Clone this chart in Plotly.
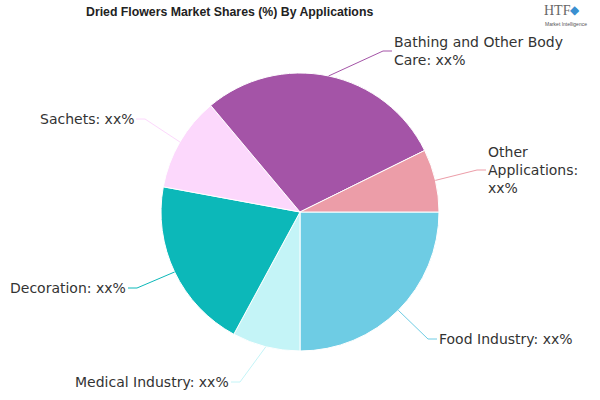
import math
import plotly.graph_objects as go

# ---- data ----
labels = ["Food Industry", "Medical Industry", "Decoration", "Sachets",
          "Bathing and Other Body Care", "Other Applications"]
values = [25.0, 7.9, 20.0, 11.0, 28.8, 7.3]
value_text = ["xx%", "xx%", "xx%", "xx%", "xx%", "xx%"]
label_display = ["Food Industry", "Medical Industry", "Decoration", "Sachets",
                 "Bathing and Other Body<br>Care", "Other<br>Applications:<br>"]
title_text = "Dried Flowers Market Shares (%) By Applications"

# ---- style ----
colors = ["#6ECCE4", "#C4F4F7", "#0CB8B9", "#FCD8FC", "#A454A7", "#EC9DA8"]
W, H = 600, 400
cx, cy, R = 300, 212, 139
start_deg = 90
# text anchor (x, y) in pixels and side for each label
label_anchor = [(437, 339, "left"), (231, 382, "right"), (128, 288, "right"),
                (136, 119, "right"), (392, 51, "left"), (486, 170, "left")]
elbow_gap = 9

def px(x):
    return x / W

def py(y):
    return 1 - y / H

fig = go.Figure(go.Pie(
    labels=labels, values=values, sort=False, direction="clockwise",
    rotation=start_deg, textinfo="none", hoverinfo="label+percent",
    marker=dict(colors=colors, line=dict(color="white", width=1)),
    domain=dict(x=[px(cx - R), px(cx + R)], y=[py(cy + R), py(cy - R)]),
    showlegend=False,
))

total = sum(values)
cum = 0.0
shapes = []
annotations = []
for i, v in enumerate(values):
    mid = math.radians(start_deg + (cum + v / 2) / total * 360)
    cum += v
    ex, ey = cx + R * math.sin(mid), cy - R * math.cos(mid)
    tx, ty, side = label_anchor[i]
    elx = tx - elbow_gap if side == "left" else tx + elbow_gap
    path = f"M {px(ex)},{py(ey)} L {px(elx)},{py(ty)} L {px(tx)},{py(ty)}"
    shapes.append(dict(type="path", xref="paper", yref="paper", path=path,
                       line=dict(color=colors[i], width=1)))
    disp = label_display[i]
    if disp.endswith("<br>"):
        text = disp + value_text[i]
    else:
        text = disp + ": " + value_text[i]
    annotations.append(dict(
        x=px(tx), y=py(ty), xref="paper", yref="paper", text=text,
        showarrow=False, xanchor=side, yanchor="middle", align=side,
        font=dict(family="DejaVu Sans", size=14, color="#333333")))

annotations.append(dict(
    x=px(229), y=py(12), xref="paper", yref="paper",
    text="<b>" + title_text + "</b>", showarrow=False,
    xanchor="center", yanchor="middle",
    font=dict(family="Liberation Sans", size=12.3, color="#222222")))
annotations.append(dict(
    x=px(557), y=py(11), xref="paper", yref="paper", text="HTF",
    showarrow=False, xanchor="center", yanchor="middle",
    font=dict(family="Liberation Serif", size=14, color="#666666")))
annotations.append(dict(
    x=px(575), y=py(10), xref="paper", yref="paper", text="◆",
    showarrow=False, xanchor="center", yanchor="middle",
    font=dict(family="DejaVu Sans", size=12, color="#3a8fd0")))
annotations.append(dict(
    x=px(566), y=py(24), xref="paper", yref="paper", text="Market Intelligence",
    showarrow=False, xanchor="center", yanchor="middle",
    font=dict(family="Liberation Sans", size=5, color="#555555")))

fig.update_layout(
    width=W, height=H, margin=dict(l=0, r=0, t=0, b=0),
    paper_bgcolor="white", plot_bgcolor="white",
    shapes=shapes, annotations=annotations,
)

fig.write_html("out.html")
